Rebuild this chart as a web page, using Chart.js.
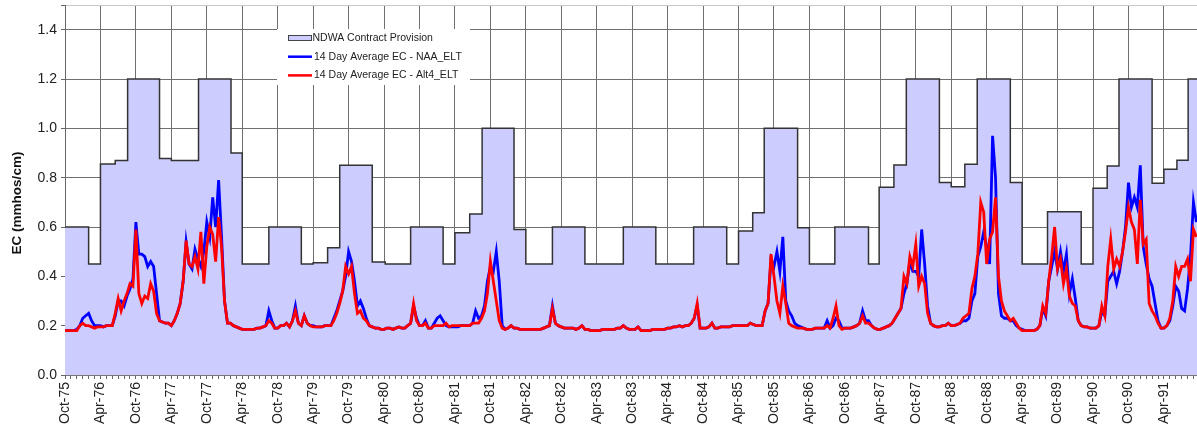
<!DOCTYPE html>
<html>
<head>
<meta charset="utf-8">
<title>NDWA EC</title>
<script src="https://cdn.jsdelivr.net/npm/chart.js@4.4.1/dist/chart.umd.min.js"></script>
<style>
  html, body { margin: 0; padding: 0; background: #fff; }
  canvas { display: block; }
</style>
</head>
<body>
<canvas id="ecChart" width="1197" height="434"></canvas>
<script>
// x values are months since 1 Oct 1975; EC series are sampled every half month
const STEP_MONTHS = 0.5;

const xTickLabels = ['Oct-75','Apr-76','Oct-76','Apr-77','Oct-77','Apr-78','Oct-78','Apr-79',
  'Oct-79','Apr-80','Oct-80','Apr-81','Oct-81','Apr-82','Oct-82','Apr-83','Oct-83','Apr-84',
  'Oct-84','Apr-85','Oct-85','Apr-86','Oct-86','Apr-87','Oct-87','Apr-88','Oct-88','Apr-89',
  'Oct-89','Apr-90','Oct-90','Apr-91'];
const yTicks = [0, 0.2, 0.4, 0.6, 0.8, 1.0, 1.2, 1.4];

// NDWA contract provision: month where each level starts, and the level (mmhos/cm)
const provisionStart = [0, 4, 6, 8.5, 10.6, 16, 18, 22.6, 28.1, 30, 34.5, 40, 42, 44.45, 46.5,
  52, 54.2, 58.5, 64, 66, 68.5, 70.6, 76, 78, 82.5, 88, 94.5, 100, 106.4, 112, 114, 116.4,
  118.35, 124, 126, 130.3, 136, 137.8, 140.3, 142.4, 148, 150, 152.3, 154.4, 160, 162, 166.3,
  172, 174, 176.4, 178.4, 184, 186, 188.2, 190.1, 192];
const provisionEC = [0.6, 0.45, 0.855, 0.87, 1.2, 0.878, 0.87, 1.2, 0.9, 0.45, 0.6, 0.45, 0.455,
  0.516, 0.85, 0.458, 0.45, 0.6, 0.45, 0.577, 0.653, 1.0, 0.59, 0.45, 0.6, 0.45, 0.6, 0.45, 0.6,
  0.45, 0.584, 0.658, 1.0, 0.597, 0.45, 0.6, 0.45, 0.761, 0.851, 1.2, 0.78, 0.763, 0.854, 1.2,
  0.78, 0.45, 0.662, 0.45, 0.757, 0.847, 1.2, 0.777, 0.834, 0.871, 1.2, 1.2];

// 14 day average EC - NAA_ELT (one row per water year, Oct..Sep, 2 values per month)
const naaEC = [
  0.18,0.18,0.18,0.18,0.185,0.2,0.23,0.24,0.25,0.22,0.2,0.2,0.2,0.195,0.2,0.2,0.2,0.24,0.3,0.3,0.28,0.32,0.35,0.39,
  0.62,0.49,0.49,0.48,0.44,0.46,0.44,0.33,0.22,0.215,0.21,0.21,0.2,0.22,0.25,0.29,0.38,0.54,0.45,0.43,0.51,0.47,0.44,0.5,
  0.62,0.56,0.72,0.6,0.79,0.56,0.3,0.21,0.21,0.2,0.195,0.19,0.185,0.185,0.185,0.185,0.185,0.19,0.19,0.195,0.2,0.26,0.22,0.19,
  0.19,0.2,0.2,0.21,0.195,0.22,0.28,0.21,0.2,0.24,0.21,0.2,0.2,0.195,0.195,0.195,0.2,0.2,0.2,0.23,0.26,0.3,0.34,0.4,
  0.5,0.46,0.38,0.28,0.3,0.27,0.23,0.2,0.195,0.19,0.19,0.185,0.185,0.19,0.19,0.185,0.19,0.195,0.19,0.19,0.2,0.21,0.28,0.23,
  0.2,0.2,0.22,0.19,0.19,0.21,0.23,0.24,0.22,0.2,0.195,0.195,0.195,0.195,0.2,0.2,0.2,0.2,0.21,0.26,0.23,0.24,0.28,0.38,
  0.44,0.42,0.5,0.38,0.2,0.185,0.19,0.2,0.19,0.19,0.185,0.185,0.185,0.185,0.185,0.185,0.185,0.185,0.19,0.195,0.2,0.28,0.21,0.2,
  0.195,0.19,0.19,0.19,0.19,0.185,0.19,0.2,0.185,0.185,0.18,0.18,0.18,0.18,0.185,0.185,0.185,0.185,0.185,0.19,0.19,0.2,0.19,0.185,
  0.185,0.185,0.195,0.18,0.18,0.18,0.18,0.185,0.185,0.185,0.185,0.185,0.19,0.19,0.195,0.195,0.2,0.195,0.2,0.2,0.21,0.23,0.28,0.19,
  0.19,0.19,0.195,0.21,0.19,0.19,0.195,0.195,0.195,0.195,0.2,0.2,0.2,0.2,0.2,0.2,0.21,0.205,0.2,0.2,0.2,0.26,0.29,0.47,
  0.44,0.5,0.42,0.56,0.3,0.26,0.24,0.21,0.2,0.195,0.19,0.185,0.185,0.185,0.19,0.19,0.19,0.19,0.22,0.19,0.2,0.23,0.22,0.19,
  0.19,0.19,0.19,0.195,0.2,0.21,0.26,0.22,0.22,0.2,0.19,0.185,0.185,0.19,0.195,0.2,0.21,0.23,0.25,0.27,0.33,0.37,0.46,0.42,
  0.42,0.4,0.59,0.45,0.28,0.21,0.2,0.195,0.195,0.2,0.2,0.21,0.2,0.2,0.205,0.21,0.22,0.22,0.23,0.3,0.33,0.48,0.52,0.58,
  0.52,0.45,0.97,0.8,0.33,0.24,0.23,0.23,0.22,0.22,0.2,0.19,0.185,0.18,0.18,0.18,0.18,0.185,0.2,0.27,0.24,0.38,0.44,0.5,
  0.43,0.5,0.42,0.49,0.33,0.39,0.31,0.22,0.2,0.195,0.195,0.19,0.19,0.19,0.2,0.26,0.24,0.38,0.4,0.42,0.37,0.42,0.5,0.6,
  0.78,0.68,0.72,0.68,0.85,0.52,0.45,0.39,0.36,0.29,0.22,0.19,0.19,0.2,0.22,0.28,0.36,0.34,0.27,0.26,0.35,0.48,0.7,0.62
];

// 14 day average EC - Alt4_ELT
const alt4EC = [
  0.18,0.18,0.18,0.18,0.18,0.2,0.21,0.2,0.2,0.195,0.19,0.195,0.195,0.195,0.2,0.2,0.2,0.25,0.31,0.26,0.3,0.33,0.37,0.36,
  0.59,0.33,0.29,0.32,0.31,0.37,0.34,0.25,0.22,0.215,0.21,0.21,0.2,0.22,0.25,0.29,0.38,0.545,0.45,0.44,0.48,0.43,0.58,0.37,
  0.52,0.6,0.57,0.46,0.64,0.52,0.3,0.21,0.21,0.2,0.195,0.19,0.185,0.185,0.185,0.185,0.185,0.19,0.19,0.195,0.2,0.22,0.21,0.19,
  0.19,0.2,0.2,0.21,0.195,0.22,0.26,0.21,0.2,0.24,0.21,0.2,0.195,0.195,0.195,0.195,0.2,0.2,0.2,0.22,0.25,0.29,0.34,0.44,
  0.41,0.44,0.33,0.25,0.26,0.23,0.22,0.2,0.195,0.19,0.19,0.185,0.185,0.19,0.19,0.185,0.19,0.195,0.19,0.19,0.2,0.21,0.29,0.22,
  0.2,0.2,0.21,0.19,0.19,0.2,0.2,0.2,0.2,0.21,0.195,0.2,0.2,0.2,0.2,0.2,0.2,0.2,0.21,0.21,0.21,0.23,0.26,0.33,
  0.46,0.38,0.3,0.22,0.19,0.185,0.19,0.2,0.19,0.19,0.185,0.185,0.185,0.185,0.185,0.185,0.185,0.185,0.19,0.195,0.2,0.27,0.21,0.2,
  0.195,0.19,0.19,0.19,0.19,0.185,0.19,0.2,0.185,0.185,0.18,0.18,0.18,0.18,0.185,0.185,0.185,0.185,0.185,0.19,0.19,0.2,0.19,0.185,
  0.185,0.185,0.195,0.18,0.18,0.18,0.18,0.185,0.185,0.185,0.185,0.185,0.19,0.19,0.195,0.195,0.2,0.195,0.2,0.2,0.21,0.23,0.29,0.19,
  0.19,0.19,0.195,0.21,0.19,0.19,0.195,0.195,0.195,0.195,0.2,0.2,0.2,0.2,0.2,0.2,0.21,0.205,0.2,0.2,0.2,0.26,0.29,0.49,
  0.4,0.3,0.25,0.36,0.29,0.21,0.2,0.195,0.19,0.19,0.19,0.185,0.185,0.185,0.19,0.19,0.19,0.19,0.2,0.19,0.23,0.28,0.2,0.185,
  0.19,0.19,0.19,0.195,0.2,0.21,0.24,0.21,0.21,0.2,0.19,0.185,0.185,0.19,0.195,0.2,0.21,0.23,0.25,0.27,0.4,0.37,0.48,0.44,
  0.53,0.36,0.4,0.37,0.25,0.21,0.2,0.195,0.195,0.2,0.2,0.21,0.2,0.2,0.205,0.21,0.23,0.24,0.25,0.35,0.4,0.49,0.7,0.66,
  0.45,0.55,0.58,0.72,0.4,0.3,0.26,0.24,0.22,0.23,0.21,0.19,0.18,0.18,0.18,0.18,0.18,0.185,0.2,0.28,0.25,0.38,0.48,0.6,
  0.43,0.47,0.37,0.43,0.32,0.29,0.28,0.22,0.2,0.195,0.195,0.19,0.19,0.19,0.2,0.28,0.24,0.44,0.55,0.43,0.47,0.44,0.5,0.58,
  0.68,0.62,0.59,0.45,0.71,0.53,0.55,0.29,0.26,0.24,0.21,0.19,0.19,0.2,0.23,0.3,0.44,0.4,0.44,0.44,0.47,0.38,0.59,0.56
];

const FONT = "'Liberation Sans', Arial, sans-serif";
const Y_TITLE = 'EC (mmhos/cm)';

const toPoints = arr => arr.map((v, i) => ({ x: i * STEP_MONTHS, y: v }));
const provisionPoints = provisionStart.map((m, i) => ({ x: m, y: provisionEC[i] }));

// month ticks (every month gets a tick mark, every 6th a label + grid line)
const monthTicks = [];
for (let m = 0; m < 192; m++) monthTicks.push(m);

// legend drawn inside the plot, on a white box
const insideLegend = {
  id: 'insideLegend',
  afterDatasetsDraw(chart) {
    const ctx = chart.ctx;
    ctx.save();
    ctx.fillStyle = '#ffffff';
    ctx.fillRect(277, 29, 193, 56);
    ctx.font = '10.5px ' + FONT;
    ctx.textBaseline = 'middle';
    chart.data.datasets.forEach((ds, i) => {
      const y = 38 + i * 18.7;
      if (ds.fill) {
        ctx.fillStyle = ds.backgroundColor;
        ctx.fillRect(288, y - 3, 24, 6);
        ctx.strokeStyle = '#444';
        ctx.lineWidth = 1;
        ctx.strokeRect(288.5, y - 2.5, 23, 5);
      } else {
        ctx.strokeStyle = ds.borderColor;
        ctx.lineWidth = 2.5;
        ctx.beginPath();
        ctx.moveTo(288, y);
        ctx.lineTo(312, y);
        ctx.stroke();
      }
      ctx.fillStyle = '#222';
      ctx.fillText(ds.label, ds.fill ? 312.5 : 314, y);
    });
    ctx.restore();
  }
};

const axisTitle = {
  id: 'axisTitle',
  afterDraw(chart) {
    const ctx = chart.ctx;
    ctx.save();
    ctx.translate(17, 203);
    ctx.rotate(-Math.PI / 2);
    ctx.font = 'bold 13.5px ' + FONT;
    ctx.fillStyle = '#111';
    ctx.textAlign = 'center';
    ctx.textBaseline = 'middle';
    ctx.fillText(Y_TITLE, 0, 0);
    ctx.restore();
  }
};

new Chart(document.getElementById('ecChart'), {
  type: 'line',
  data: {
    datasets: [
      {
        label: 'NDWA Contract Provision',
        data: provisionPoints,
        stepped: true,
        fill: 'origin',
        backgroundColor: '#ccccff',
        borderColor: '#333333',
        borderWidth: 1.5,
        pointRadius: 0,
        order: 3
      },
      {
        label: '14 Day Average EC - NAA_ELT',
        data: toPoints(naaEC),
        fill: false,
        borderColor: '#0000ff',
        borderWidth: 2.8,
        pointRadius: 0,
        tension: 0,
        order: 2
      },
      {
        label: '14 Day Average EC - Alt4_ELT',
        data: toPoints(alt4EC),
        fill: false,
        borderColor: '#ff0000',
        borderWidth: 2.8,
        pointRadius: 0,
        tension: 0,
        order: 1
      }
    ]
  },
  options: {
    responsive: false,
    animation: false,
    layout: { padding: { top: 5, right: 0, bottom: 0, left: 0 } },
    plugins: {
      legend: { display: false },
      tooltip: { enabled: false }
    },
    scales: {
      x: {
        type: 'linear',
        min: 0,
        max: 191.6,
        afterBuildTicks: s => { s.ticks = monthTicks.map(v => ({ value: v })); },
        afterFit: s => { s.height = 59; s.paddingLeft = 0; s.paddingRight = 0; },
        ticks: {
          autoSkip: false,
          minRotation: 90,
          maxRotation: 90,
          padding: 3,
          color: '#222',
          font: { family: FONT, size: 14 },
          callback: v => (v % 6 === 0 ? xTickLabels[v / 6] : '')
        },
        grid: {
          color: c => (c.tick && c.tick.value % 6 === 0 ? '#707070' : 'rgba(0,0,0,0)'),
          tickColor: '#666',
          tickLength: 4,
          lineWidth: 1
        },
        border: { color: '#777', width: 1 }
      },
      y: {
        min: 0,
        max: 1.5,
        afterBuildTicks: s => { s.ticks = yTicks.concat([1.5]).map(v => ({ value: v })); },
        afterFit: s => { s.width = 65; s.paddingTop = 0; s.paddingBottom = 0; },
        ticks: {
          padding: 4,
          color: '#222',
          font: { family: FONT, size: 14 },
          callback: v => (v > 1.45 ? '' : v.toFixed(1))
        },
        grid: {
          color: c => (c.tick && c.tick.value > 1.45 ? '#c8c8c8' : '#707070'),
          tickColor: '#666',
          tickLength: 4,
          lineWidth: 1
        },
        border: { color: '#666', width: 1 }
      }
    }
  },
  plugins: [insideLegend, axisTitle]
});
</script>
</body>
</html>
